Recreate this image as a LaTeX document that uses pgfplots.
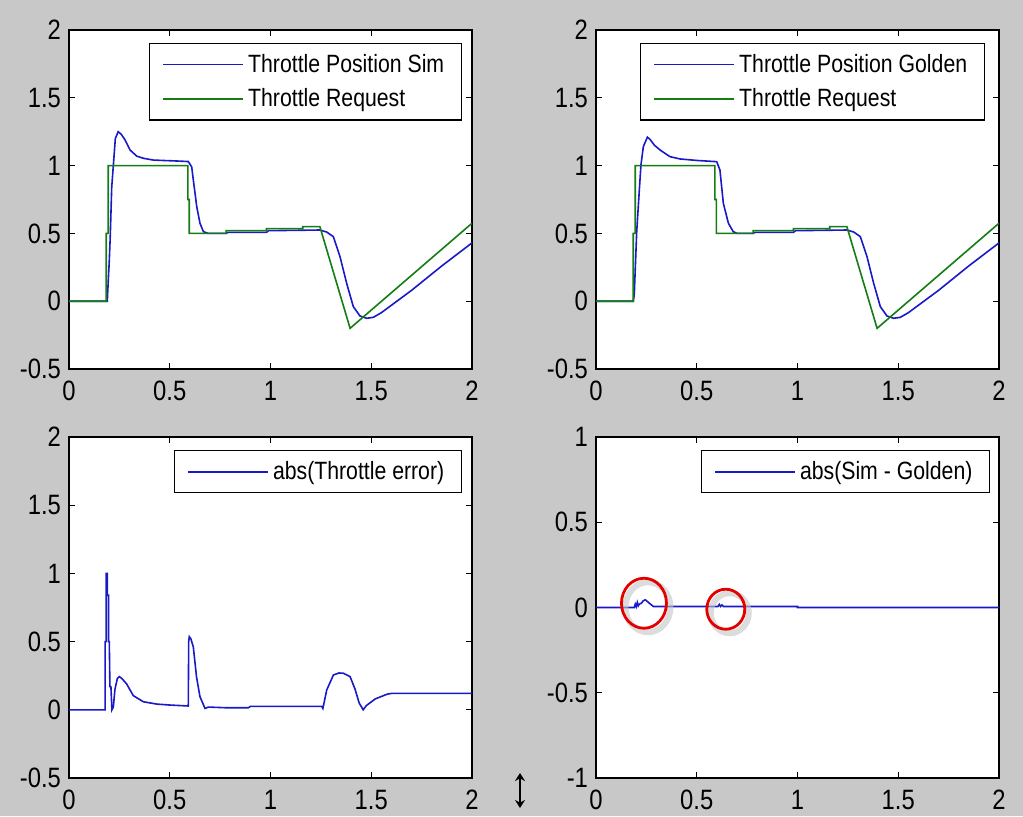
\documentclass[border=0pt]{standalone}
\usepackage{pgfplots}
\pgfplotsset{compat=1.18}
\usetikzlibrary{arrows.meta}
\usepackage{fontspec}
\setmainfont{Liberation Sans}[FakeStretch=0.85]
\definecolor{figgray}{RGB}{200,200,200}
\definecolor{mblue}{RGB}{25,25,200}
\definecolor{mgreen}{RGB}{20,125,20}
\pgfplotsset{
  mat/.style={
    scale only axis, width=201.5pt,
    axis background/.style={fill=white},
    xmin=0, xmax=2, xtick={0,0.5,1,1.5,2},
    tick align=inside, tick pos=both,
    major tick length=3pt,
    axis line style={line width=0.8pt, black},
    every tick/.style={black, line width=0.6pt},
    /pgf/number format/assume math mode=true,
    ticklabel style={font=\fontsize{14}{16}\selectfont},
    xticklabel style={yshift=-2.5pt},
    yticklabel style={xshift=-0.5pt},
    legend style={font=\fontsize{12.5}{15}\selectfont, draw=black, line width=0.7pt,
      anchor=north east, inner xsep=6.5pt, inner ysep=3.25pt, row sep=2.5pt, fill=white},
    legend cell align=left,
    legend image code/.code={\draw[##1, line width=0.8pt] (0pt,0pt) -- (40pt,0pt);},
    every axis plot/.append style={line width=0.8pt},
  }
}
\begin{document}
\begin{tikzpicture}
\fill[figgray] (0,0) rectangle (511.5pt,408pt);

% ---------- top left
\begin{axis}[mat, at={(34.5pt,223.5pt)}, anchor=south west, height=169.5pt,
  ymin=-0.5, ymax=2, ytick={-0.5,0,0.5,1,1.5,2},
  legend style={at={(0.975,0.962)}}]
\addplot[mblue] coordinates {
(0,0)(0.187,0)(0.19,0)(0.195,0.156)(0.2,0.3)(0.205,0.49)(0.212,0.84)(0.222,1.04)(0.23,1.2)(0.244,1.25)(0.26,1.23)(0.278,1.19)(0.303,1.115)(0.336,1.07)(0.369,1.054)(0.418,1.041)(0.48,1.037)(0.534,1.034)(0.592,1.03)(0.609,0.99)(0.617,0.894)(0.634,0.697)(0.65,0.575)(0.667,0.513)(0.69,0.5)(0.78,0.5)(0.79,0.508)(0.98,0.508)(0.99,0.52)(1.245,0.525)(1.279,0.51)(1.312,0.476)(1.345,0.328)(1.378,0.132)(1.411,-0.04)(1.444,-0.109)(1.477,-0.126)(1.51,-0.119)(1.55,-0.085)(1.7,0.08)(1.85,0.26)(2,0.43)};
\addlegendentry{Throttle Position Sim}
\addplot[mgreen] coordinates {
(0,0)(0.185,0)(0.185,0.5)(0.195,0.5)(0.195,1)(0.59,1)(0.59,0.75)(0.597,0.75)(0.597,0.5)(0.78,0.5)(0.78,0.52)(0.98,0.52)(0.98,0.535)(1.16,0.535)(1.16,0.55)(1.245,0.55)(1.395,-0.2)(2,0.575)};
\addlegendentry{Throttle Request}
\end{axis}

% ---------- top right
\begin{axis}[mat, at={(298pt,223.5pt)}, anchor=south west, height=169.5pt,
  ymin=-0.5, ymax=2, ytick={-0.5,0,0.5,1,1.5,2},
  legend style={at={(0.965,0.962)}}]
\addplot[mblue] coordinates {
(0,0)(0.185,0)(0.19,0.05)(0.194,0.206)(0.202,0.512)(0.215,0.82)(0.223,1.004)(0.235,1.14)(0.255,1.21)(0.27,1.19)(0.29,1.15)(0.318,1.115)(0.367,1.066)(0.417,1.049)(0.5,1.038)(0.599,1.029)(0.615,0.968)(0.632,0.722)(0.657,0.575)(0.681,0.513)(0.7,0.5)(0.78,0.5)(0.79,0.508)(0.98,0.508)(0.99,0.52)(1.245,0.525)(1.279,0.51)(1.312,0.476)(1.345,0.328)(1.378,0.132)(1.411,-0.04)(1.444,-0.109)(1.477,-0.126)(1.51,-0.119)(1.55,-0.085)(1.7,0.08)(1.85,0.26)(2,0.43)};
\addlegendentry{Throttle Position Golden}
\addplot[mgreen] coordinates {
(0,0)(0.185,0)(0.185,0.5)(0.195,0.5)(0.195,1)(0.59,1)(0.59,0.75)(0.597,0.75)(0.597,0.5)(0.78,0.5)(0.78,0.52)(0.98,0.52)(0.98,0.535)(1.16,0.535)(1.16,0.55)(1.245,0.55)(1.395,-0.2)(2,0.575)};
\addlegendentry{Throttle Request}
\end{axis}

% ---------- bottom left
\begin{axis}[mat, at={(34.5pt,19pt)}, anchor=south west, height=170.5pt,
  ymin=-0.5, ymax=2, ytick={-0.5,0,0.5,1,1.5,2},
  legend style={at={(0.975,0.962)}}]
\addplot[mblue] coordinates {
(0,0)(0.179,0)(0.179,0.5)(0.184,0.5)(0.184,1.0)(0.19,1.0)(0.19,0.84)(0.196,0.84)(0.196,0.5)(0.2,0.5)(0.203,0.17)(0.208,0.17)(0.213,0.0)(0.22,0.02)(0.228,0.15)(0.24,0.23)(0.25,0.243)(0.262,0.23)(0.286,0.19)(0.319,0.104)(0.369,0.059)(0.435,0.042)(0.5,0.035)(0.592,0.028)(0.594,0.5)(0.597,0.536)(0.605,0.52)(0.617,0.46)(0.633,0.24)(0.65,0.096)(0.675,0.01)(0.692,0.02)(0.78,0.015)(0.89,0.015)(0.9,0.025)(1.254,0.025)(1.26,0.01)(1.279,0.145)(1.312,0.255)(1.34,0.27)(1.362,0.268)(1.395,0.243)(1.42,0.15)(1.44,0.05)(1.46,0.0)(1.475,0.03)(1.52,0.08)(1.58,0.115)(1.6,0.12)(2,0.12)};
\addlegendentry{abs(Throttle error)}
\end{axis}

% ---------- bottom right
\begin{axis}[mat, at={(298pt,19pt)}, anchor=south west, height=170.5pt,
  ymin=-1, ymax=1, ytick={-1,-0.5,0,0.5,1},
  legend style={at={(0.978,0.962)}}]
\addplot[mblue] coordinates {
(0,0)(0.19,0)(0.195,0.02)(0.2,0.005)(0.205,0.03)(0.21,0.01)(0.215,0.02)(0.225,0.025)(0.235,0.04)(0.245,0.045)(0.255,0.035)(0.27,0.02)(0.285,0.006)(0.3,0.006)(0.605,0.006)(0.612,0.018)(0.618,0.006)(0.625,0.015)(0.632,0.006)(1.0,0.006)(1.0,0)(2,0)};
\addlegendentry{abs(Sim - Golden)}
\draw[gray!45, line width=3pt, opacity=0.6] ([shift={(2pt,-2pt)}]axis cs:0.238,0.025) ellipse[x radius=11.25pt, y radius=12.5pt];
\draw[gray!45, line width=3pt, opacity=0.6] ([shift={(2pt,-2pt)}]axis cs:0.644,-0.01) ellipse[x radius=9.5pt, y radius=10pt];
\draw[red!90!black, line width=1.4pt] (axis cs:0.238,0.025) ellipse[x radius=11.25pt, y radius=12.5pt];
\draw[red!90!black, line width=1.4pt] (axis cs:0.644,-0.01) ellipse[x radius=9.5pt, y radius=10pt];
\end{axis}

% cursor glyph
\draw[line width=0.9pt, {Stealth[length=4pt,width=5pt]}-{Stealth[length=4pt,width=5pt]}] (260pt,21.5pt) -- (260pt,4pt);

\pgfresetboundingbox
\useasboundingbox (0,0) rectangle (511.5pt,408pt);
\end{tikzpicture}
\end{document}
